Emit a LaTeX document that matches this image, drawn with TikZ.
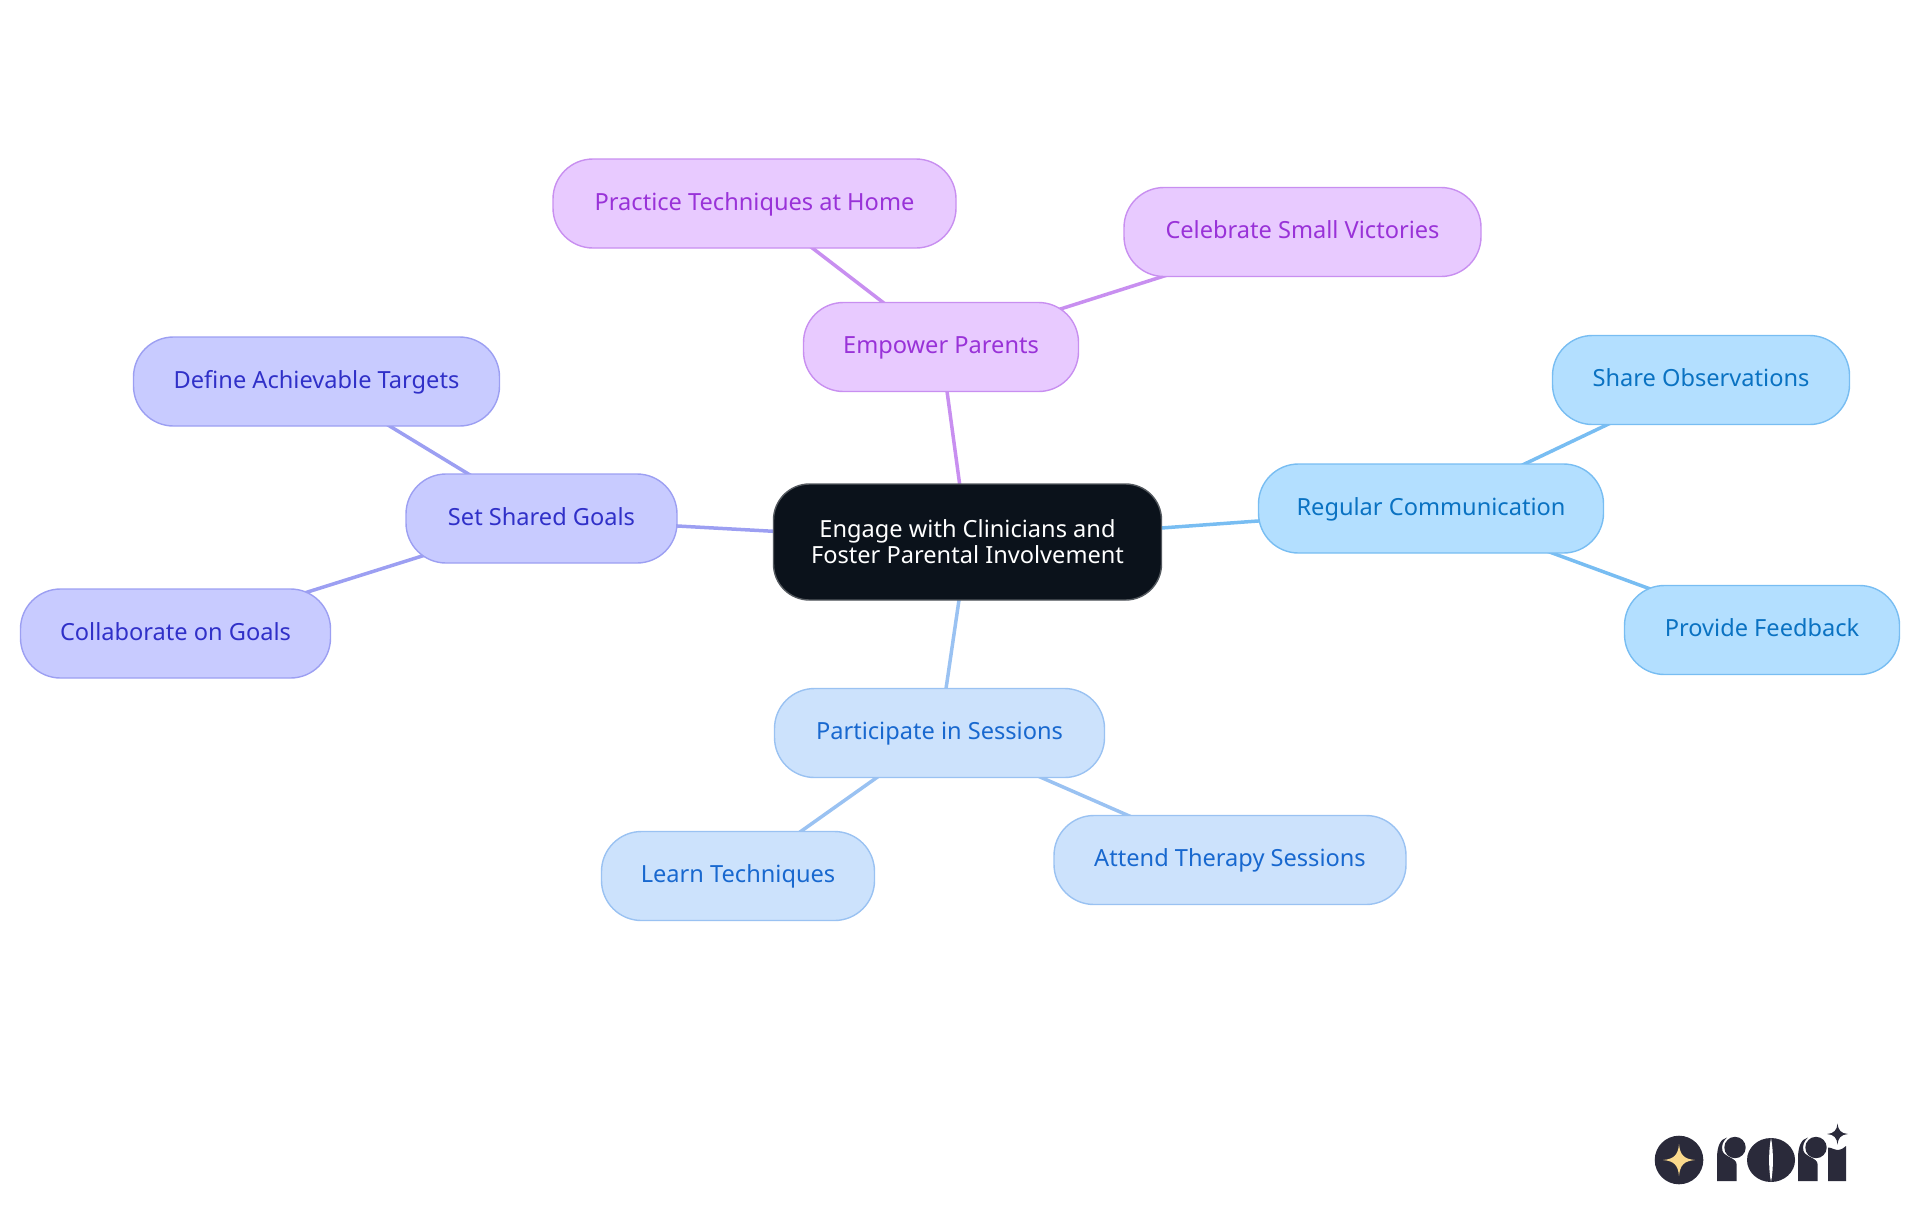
\documentclass[tikz,border=0pt]{standalone}
\usepackage{fontspec}
\setmainfont{Noto Sans}
\usetikzlibrary{backgrounds}

\definecolor{rootfill}{HTML}{0B121B}
\definecolor{purplefill}{HTML}{E8CAFF}
\definecolor{purpleline}{HTML}{C88FF0}
\definecolor{purpletext}{HTML}{9932D8}
\definecolor{indigofill}{HTML}{C8CBFF}
\definecolor{indigoline}{HTML}{9C9FF2}
\definecolor{indigotext}{HTML}{3030C8}
\definecolor{skyfill}{HTML}{B3DFFF}
\definecolor{skyline}{HTML}{78BDF2}
\definecolor{skytext}{HTML}{0A72C2}
\definecolor{bluefill}{HTML}{CCE2FC}
\definecolor{blueline}{HTML}{9AC2F2}
\definecolor{bluetext}{HTML}{1868CF}
\definecolor{logodark}{HTML}{2A2A3A}
\definecolor{logostar}{HTML}{FAD98C}

\tikzset{
    box/.style={rectangle,rounded corners=20pt,line width=0.7pt,minimum height=44.5pt,inner sep=0pt,font=\fontsize{11.8}{13}\selectfont},
    rootbox/.style={box,draw=rootfill!70!white,fill=rootfill,text=white,rounded corners=18pt,align=center},
    leafbox/.style={box,text height=8pt,text depth=1.5pt},
    purplebox/.style={leafbox,draw=purpleline,fill=purplefill,text=purpletext},
    indigobox/.style={leafbox,draw=indigoline,fill=indigofill,text=indigotext},
    skybox/.style={leafbox,draw=skyline,fill=skyfill,text=skytext},
    bluebox/.style={leafbox,draw=blueline,fill=bluefill,text=bluetext},
    link/.style={line width=1.75pt}
}

\begin{document}
\begin{tikzpicture}[x=0.5pt,y=-0.5pt]
    \useasboundingbox (0,0) rectangle (1920,1215);

    \node[rootbox,minimum width=194pt,minimum height=58pt] (root) at (967.5,542) {Engage with Clinicians and\\Foster Parental Involvement};

    \node[purplebox,minimum width=137.5pt] (empower) at (941,347) {Empower Parents};
    \node[purplebox,minimum width=201.5pt] (practice) at (754.5,203.5) {Practice Techniques at Home};
    \node[purplebox,minimum width=178.5pt] (celebrate) at (1302.5,232) {Celebrate Small Victories};

    \node[indigobox,minimum width=135.5pt] (goals) at (541.5,518.5) {Set Shared Goals};
    \node[indigobox,minimum width=183pt] (define) at (316.5,381.5) {Define Achievable Targets};
    \node[indigobox,minimum width=155pt] (collaborate) at (175.5,633.5) {Collaborate on Goals};

    \node[skybox,minimum width=172.5pt] (comm) at (1431,508.5) {Regular Communication};
    \node[skybox,minimum width=148.5pt] (share) at (1701,380) {Share Observations};
    \node[skybox,minimum width=137.5pt] (feedback) at (1762,630) {Provide Feedback};

    \node[bluebox,minimum width=165pt] (sessions) at (939.5,733) {Participate in Sessions};
    \node[bluebox,minimum width=136.5pt] (learn) at (738,876) {Learn Techniques};
    \node[bluebox,minimum width=176pt] (attend) at (1230,860) {Attend Therapy Sessions};

    \begin{scope}[on background layer]
        \draw[link,purpleline] (root.center) -- (empower.center);
        \draw[link,purpleline] (empower.center) -- (practice.center);
        \draw[link,purpleline] (empower.center) -- (celebrate.center);
        \draw[link,indigoline] (root.center) -- (goals.center);
        \draw[link,indigoline] (goals.center) -- (define.center);
        \draw[link,indigoline] (goals.center) -- (collaborate.center);
        \draw[link,skyline] (root.center) -- (comm.center);
        \draw[link,skyline] (comm.center) -- (share.center);
        \draw[link,skyline] (comm.center) -- (feedback.center);
        \draw[link,blueline] (root.center) -- (sessions.center);
        \draw[link,blueline] (sessions.center) -- (learn.center);
        \draw[link,blueline] (sessions.center) -- (attend.center);
    \end{scope}

    % logo
    \fill[logodark] (1679,1160) circle (24.3);
    \fill[logostar] (1679,1144) .. controls (1680,1155) and (1684,1159) .. (1695,1160) .. controls (1684,1161) and (1680,1165) .. (1679,1176) .. controls (1678,1165) and (1674,1161) .. (1663,1160) .. controls (1674,1159) and (1678,1155) .. (1679,1144) -- cycle;
    \foreach \dx in {0,81}{
        \begin{scope}[xshift=\dx*0.5pt]
            \fill[logodark] (1717,1181) -- (1717,1158) .. controls (1717,1147) and (1720,1139) .. (1727,1137.5) .. controls (1723,1141) and (1721,1146) .. (1722.5,1151) .. controls (1724.5,1157) and (1736.5,1158) .. (1736.5,1164) -- (1736.5,1181) -- cycle;
            \fill[logodark] (1735,1147.5) circle (10.7);
        \end{scope}
    }
    \fill[logodark] (1771,1160) ellipse (24 and 22);
    \fill[white] (1771,1138) .. controls (1768.5,1150) and (1768.5,1170) .. (1771,1182) .. controls (1773.5,1170) and (1773.5,1150) .. (1771,1138) -- cycle;
    \fill[logodark] (1828,1181) -- (1828,1147.5) .. controls (1832,1147.5) and (1834,1150) .. (1837,1150) .. controls (1841,1150) and (1844,1148) .. (1846,1146) -- (1846,1181) -- cycle;
    \fill[logodark] (1837.5,1123.5) .. controls (1838,1130) and (1841,1133.5) .. (1848,1134) .. controls (1841,1134.5) and (1838,1138) .. (1837.5,1144.5) .. controls (1837,1138) and (1834,1134.5) .. (1827,1134) .. controls (1834,1133.5) and (1837,1130) .. (1837.5,1123.5) -- cycle;
\end{tikzpicture}
\end{document}
